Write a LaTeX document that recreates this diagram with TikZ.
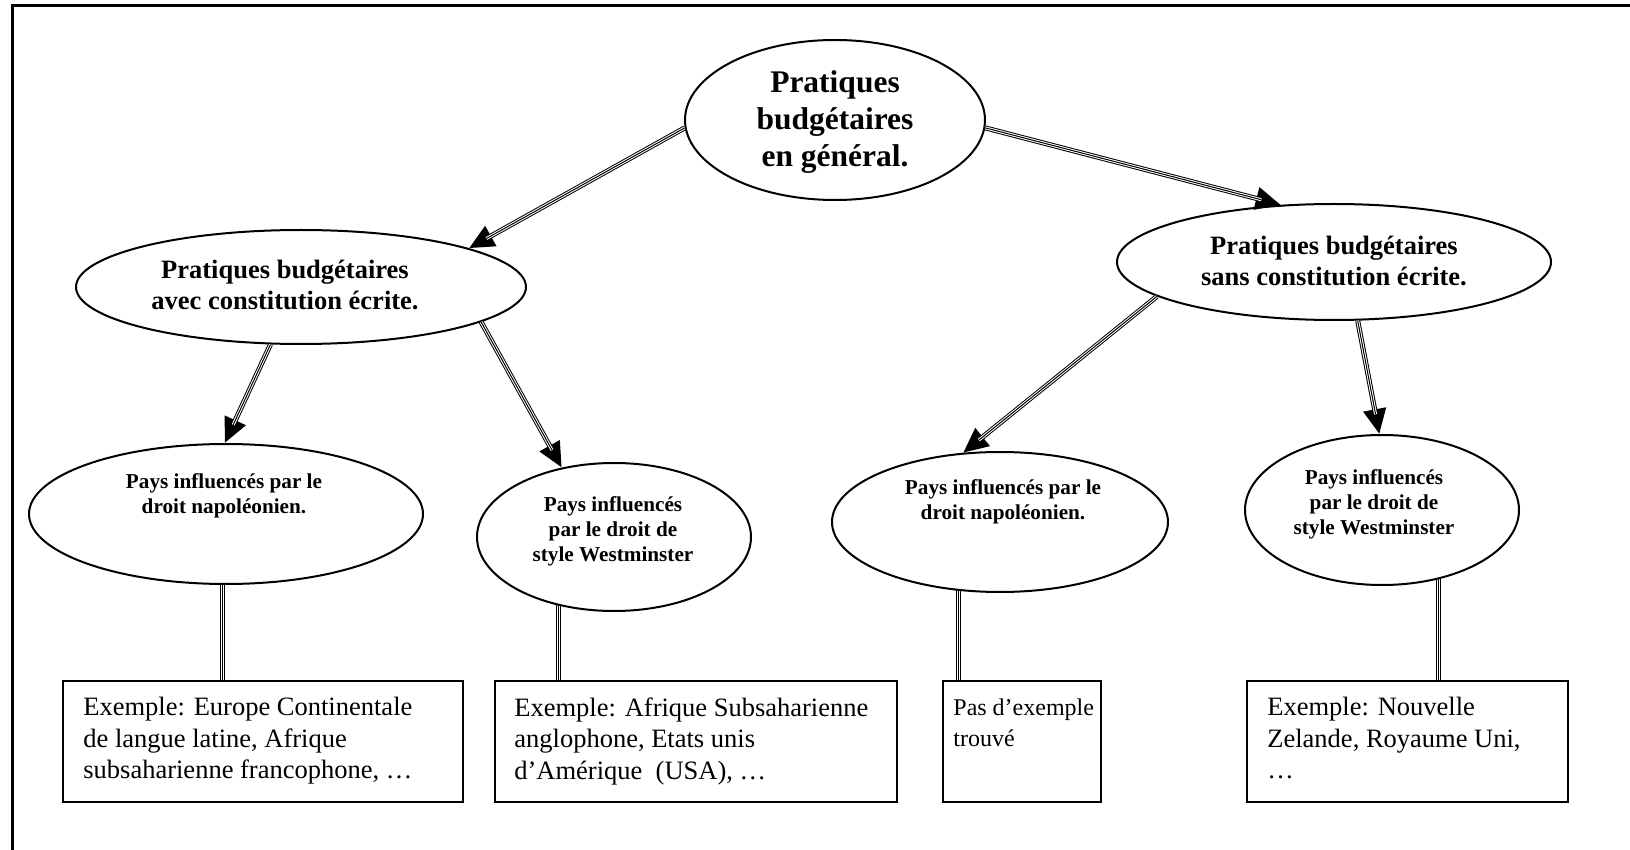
\documentclass[tikz,border=0pt]{standalone}
\usepackage{fontspec}
\setmainfont{Liberation Serif}
\usetikzlibrary{shapes.geometric,arrows.meta,calc}
\pgfdeclarelayer{bg}
\pgfsetlayers{bg,main}
\begin{document}
\begin{tikzpicture}[x=0.5pt,y=-0.5pt,
  ell/.style={ellipse, draw, line width=1pt, fill=white, inner sep=0pt},
  box/.style={rectangle, draw, line width=1pt, inner sep=0pt, anchor=north west, minimum height=60.5pt},
  hbig/.style={align=center, inner sep=0pt, font=\fontsize{15.75}{18.5}\selectfont\bfseries},
  hmid/.style={align=center, inner sep=0pt, font=\fontsize{13.25}{15.5}\selectfont\bfseries},
  hsmall/.style={align=center, inner sep=0pt, font=\fontsize{10.6}{12.5}\selectfont\bfseries},
  boxtext/.style={align=left, inner sep=0pt, anchor=north west, font=\fontsize{13.25}{15.75}\selectfont},
  tripleline/.style={draw, line width=2.5pt,
    postaction={draw=white, line width=1.5pt},
    postaction={draw=black, line width=0.5pt}},
  triplearrow/.style={draw, line width=2.5pt, -{Triangle[length=12.5pt,width=11pt]},
    postaction={draw=white, line width=1.5pt, arrows=-, shorten >=10pt},
    postaction={draw=black, line width=0.5pt, arrows=-, shorten >=10pt}},
]
\useasboundingbox (0,0) rectangle (1630,850);

% frame (top and left edges)
\draw[line width=1.5pt] (12,850) -- (12,6) -- (1630,6);

% ellipses
\node[ell, minimum width=150pt, minimum height=80pt] (top) at (835,120) {};
\node[hbig] (toptxt) at (835,122) {Pratiques\\budgétaires\\en général.};

\node[ell, minimum width=225pt, minimum height=57pt] (avec) at (301,287) {};
\node[hmid] (avectxt) at (285,285) {Pratiques budgétaires\\avec constitution écrite.};

\node[ell, minimum width=217pt, minimum height=58pt] (sans) at (1334,262) {};
\node[hmid] (sanstxt) at (1334,261) {Pratiques budgétaires\\sans constitution écrite.};

\node[ell, minimum width=197pt, minimum height=70pt] (napA) at (226,514) {};
\node[hsmall] (napAtxt) at (224,496) {Pays influencés par le\\droit napoléonien.};

\node[ell, minimum width=137pt, minimum height=74pt] (westA) at (614,537) {};
\node[hsmall] (westAtxt) at (613,531) {Pays influencés\\par le droit de\\style Westminster};

\node[ell, minimum width=168pt, minimum height=70pt] (napB) at (1000,522) {};
\node[hsmall] (napBtxt) at (1003,502) {Pays influencés par le\\droit napoléonien.};

\node[ell, minimum width=137pt, minimum height=75pt] (westB) at (1382,510) {};
\node[hsmall] (westBtxt) at (1374,504) {Pays influencés\\par le droit de\\style Westminster};

% example boxes
\node[box, minimum width=200pt] (exA) at (62,680) {};
\node[boxtext] at ([shift={(21,17)}]exA.north west) {Exemple: Europe Continentale\\de langue latine, Afrique\\subsaharienne francophone, …};

\node[box, minimum width=201pt] (exB) at (494,680) {};
\node[boxtext] at ([shift={(20,17)}]exB.north west) {Exemple: Afrique Subsaharienne\\anglophone, Etats unis\\d’Amérique\ \ (USA), …};

\node[box, minimum width=79pt] (exC) at (942,680) {};
\node[boxtext, font=\fontsize{12}{15.75}\selectfont] at ([shift={(11,18)}]exC.north west) {Pas d’exemple\\trouvé};

\node[box, minimum width=160.5pt] (exD) at (1246,680) {};
\node[boxtext] at ([shift={(21,17)}]exD.north west) {Exemple: Nouvelle\\Zelande, Royaume Uni,\\…};

% arrows between the ellipses
\draw[triplearrow] (top.183) -- (avec.13.5);
\draw[triplearrow] (top.-3) -- (sans.133);
\draw[triplearrow] (avec.242) -- (napA.91);
\draw[triplearrow] (avec.-11) -- (westA.127);
\draw[triplearrow] (sans.191) -- (napB.118);
\draw[triplearrow] (sans.-68) -- (westB.92);

% links from ellipses down to the boxes
\coordinate (kA) at ($(napA.center)+(-4,0)$);
\coordinate (kB) at ($(westA.center)+(-56,0)$);
\coordinate (kC) at ($(napB.center)+(-42,0)$);
\coordinate (kD) at ($(westB.center)+(56,0)$);
\begin{pgfonlayer}{bg}
\draw[tripleline] (exA.north -| kA) -- (kA);
\draw[tripleline] (exB.north -| kB) -- (kB);
\draw[tripleline] (exC.north -| kC) -- (kC);
\draw[tripleline] (exD.north -| kD) -- (kD);
\end{pgfonlayer}
\end{tikzpicture}
\end{document}
